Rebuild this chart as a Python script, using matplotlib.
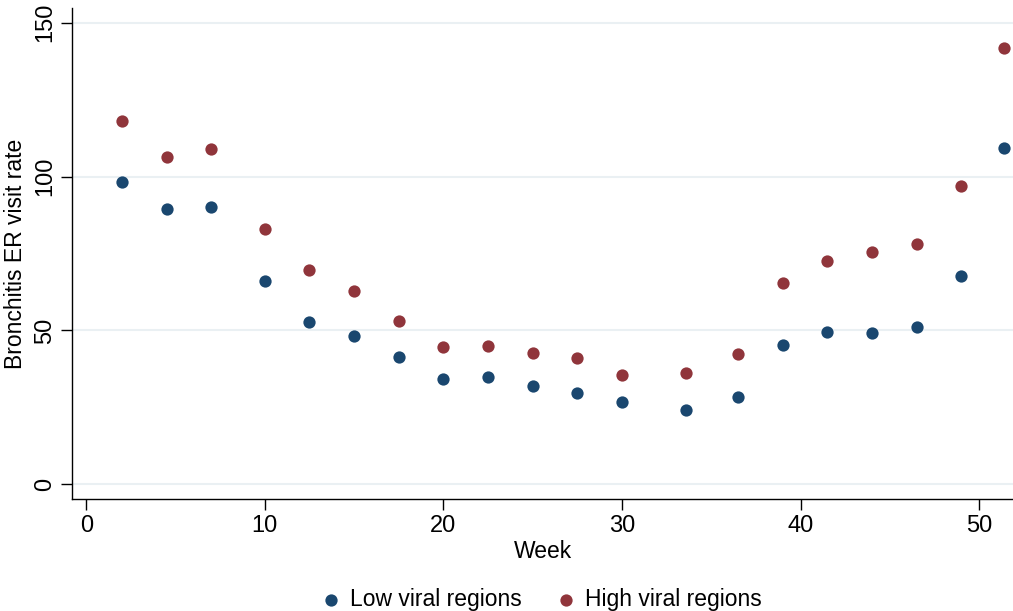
import matplotlib
matplotlib.use("Agg")
import matplotlib.pyplot as plt

weeks = [2, 4.5, 7, 10, 12.5, 15, 17.5, 20, 22.5, 25, 27.5, 30, 33.6, 36.5, 39, 41.5, 44, 46.5, 49, 51.4]
low_viral = [98.2, 89.6, 90.0, 66.0, 52.8, 48.3, 41.4, 34.3, 35.0, 32.0, 29.7, 26.6, 24.1, 28.5, 45.4, 49.4, 49.3, 51.0, 67.6, 109.2]
high_viral = [118.2, 106.3, 108.9, 83.1, 69.6, 62.8, 53.0, 44.5, 44.9, 42.7, 41.0, 35.6, 36.2, 42.2, 65.3, 72.6, 75.4, 78.1, 97.0, 141.7]
yticks = [0, 50, 100, 150]
xticks = [0, 10, 20, 30, 40, 50]

plt.rcParams['font.family'] = ['Liberation Sans', 'DejaVu Sans']

fig = plt.figure(figsize=(10.13, 6.11), dpi=100)
ax = fig.add_axes([72/1013, 112/611, 1 - 72/1013, (499-8)/611])

for y in yticks:
    ax.axhline(y, color='#eaf0f3', lw=1.5, zorder=0)

ax.scatter(weeks, low_viral, s=78, color='#1a476f', label='Low viral regions', zorder=3, linewidths=0)
ax.scatter(weeks, high_viral, s=78, color='#90353b', label='High viral regions', zorder=3, linewidths=0)

ax.set_xlim(-0.8, 51.9)
ax.set_ylim(-4.8, 154.8)
ax.set_xticks(xticks)
ax.set_yticks(yticks)
ax.tick_params(axis='both', labelsize=17, length=8, width=1, direction='out', color='black')
for lbl in ax.get_yticklabels():
    lbl.set_rotation(90)
    lbl.set_va('center')
ax.spines['top'].set_visible(False)
ax.spines['right'].set_visible(False)
ax.spines['left'].set_color('black')
ax.spines['bottom'].set_color('black')
ax.spines['left'].set_linewidth(1)
ax.spines['bottom'].set_linewidth(1)

ax.set_xlabel('Week', fontsize=16.5, labelpad=2)
ax.set_ylabel('Bronchitis ER visit rate', fontsize=16.5, labelpad=5)

ax.legend(loc='upper center', bbox_to_anchor=(0.498, -0.14), ncol=2, frameon=False,
          fontsize=16.5, handlelength=1.0, handletextpad=0.3, columnspacing=1.45,
          markerscale=1.0)

fig.savefig('out.png', dpi=100)
